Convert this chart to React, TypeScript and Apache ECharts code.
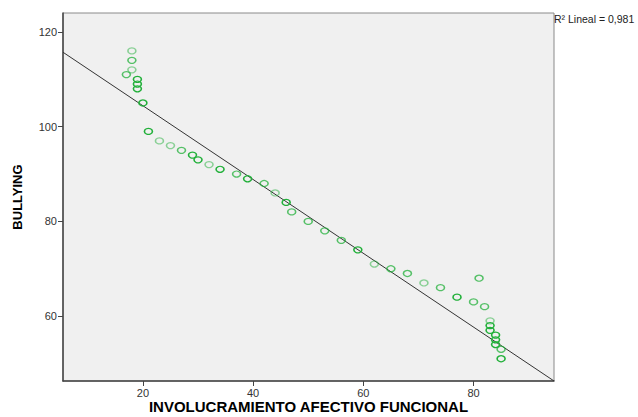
import React, { useEffect, useRef } from "react";
import * as echarts from "echarts";

// Data
const xValues = [18, 18, 18, 17, 19, 19, 19, 20, 21, 23, 25, 27, 29, 30, 32, 34, 37, 39, 42, 44, 46, 47, 50, 53, 56, 59, 62, 65, 68, 71, 74, 77, 80, 81, 82, 83, 83, 83, 84, 84, 84, 85, 85];
const yValues = [116, 114, 112, 111, 110, 109, 108, 105, 99, 97, 96, 95, 94, 93, 92, 91, 90, 89, 88, 86, 84, 82, 80, 78, 76, 74, 71, 70, 69, 67, 66, 64, 63, 68, 62, 59, 58, 57, 56, 55, 54, 53, 51];
// overlap weight (1 = single case, 3 = several coinciding cases)
const weights = [1, 2, 1, 2, 3, 3, 3, 3, 3, 1, 1, 2, 3, 3, 1, 3, 2, 3, 2, 1, 3, 2, 2, 2, 2, 3, 1, 2, 2, 1, 2, 3, 2, 2, 2, 1, 3, 3, 3, 3, 3, 2, 3];

const xTicks = [20, 40, 60, 80];
const yTicks = [60, 80, 100, 120];
const xMin = 5.5;
const xMax = 94.6;
const yMin = 46.3;
const yMax = 124;

// Fit line: y = intercept + slope * x
const fitIntercept = 120.0;
const fitSlope = -0.779;
const r2Label = "R² Lineal = 0,981";

const xTitle = "INVOLUCRAMIENTO AFECTIVO FUNCIONAL";
const yTitle = "BULLYING";

export default function App() {
  const ref = useRef<HTMLDivElement>(null);
  useEffect(() => {
    if (!ref.current) return;
    const chart = echarts.init(ref.current, undefined, { renderer: "svg" });
    const opacityFor = (w: number) => (w === 1 ? 0.5 : w === 2 ? 0.75 : 1);
    const points = xValues.map((x, i) => ({
      value: [x, yValues[i]],
      itemStyle: { opacity: opacityFor(weights[i]) },
    }));
    const lineData = [
      [xMin, fitIntercept + fitSlope * xMin],
      [xMax, fitIntercept + fitSlope * xMax],
    ];
    const font = "Liberation Sans, Arial, sans-serif";
    chart.setOption({
      animation: false,
      grid: {
        left: 63,
        top: 13,
        right: 84,
        bottom: 36,
        outerBoundsMode: "none",
        containLabel: false,
        show: true,
        backgroundColor: "#f0f0f0",
        borderColor: "#8a8a8a",
        borderWidth: 1,
      },
      xAxis: {
        type: "value",
        min: xMin,
        max: xMax,
        splitLine: { show: false },
        axisLine: { show: true, onZero: false, lineStyle: { color: "#444", width: 1.5 } },
        axisTick: { show: true, length: 5, customValues: xTicks, lineStyle: { color: "#444" } },
        axisLabel: { customValues: xTicks, fontFamily: font, fontSize: 11, color: "#333", margin: 6 },
      },
      yAxis: {
        type: "value",
        min: yMin,
        max: yMax,
        name: yTitle,
        nameLocation: "middle",
        nameGap: 39,
        nameRotate: 90,
        nameTextStyle: { fontFamily: font, fontWeight: "bold", fontSize: 13, color: "#000" },
        splitLine: { show: false },
        axisLine: { show: true, onZero: false, lineStyle: { color: "#444", width: 1.5 } },
        axisTick: { show: true, length: 5, customValues: yTicks, lineStyle: { color: "#444" } },
        axisLabel: { customValues: yTicks, fontFamily: font, fontSize: 11, color: "#333", margin: 6 },
      },
      series: [
        {
          type: "line",
          data: lineData,
          symbol: "none",
          lineStyle: { color: "#333", width: 1 },
          silent: true,
          z: 1,
        },
        {
          type: "scatter",
          data: points,
          symbol: "circle",
          symbolSize: [8, 6],
          itemStyle: { color: "rgba(0,0,0,0)", borderColor: "#22b03a", borderWidth: 1.4 },
          z: 2,
        },
      ],
      graphic: [
        {
          type: "text",
          left: 554,
          top: 13,
          style: { text: r2Label, fontFamily: font, fontSize: 10.5, fill: "#222" },
        },
        {
          type: "text",
          x: 308.5,
          y: 406,
          style: {
            text: xTitle,
            fontFamily: font,
            fontWeight: "bold",
            fontSize: 15,
            fill: "#000",
            align: "center",
            verticalAlign: "middle",
          },
        },
      ],
    });
    return () => chart.dispose();
  }, []);
  return (
    <div
      ref={ref}
      style={{ position: "fixed", left: 0, top: 0, width: 638, height: 417, background: "#fff" }}
    />
  );
}
